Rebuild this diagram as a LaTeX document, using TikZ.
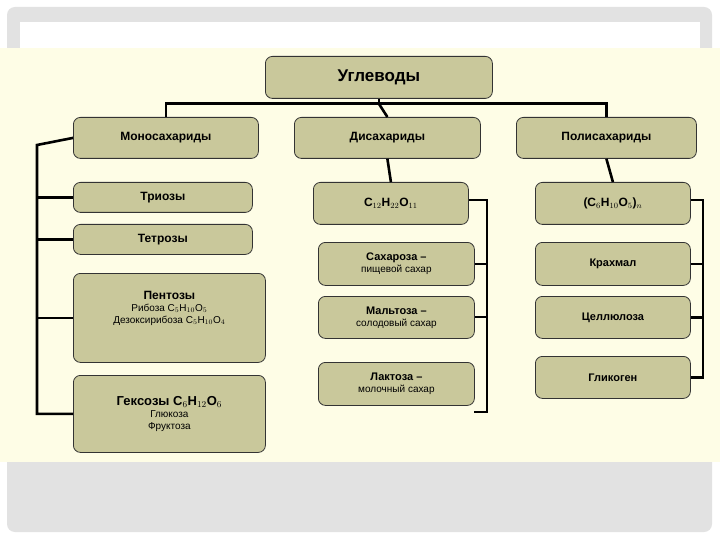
\documentclass[tikz,border=0pt]{standalone}
\usepackage{fontspec}
\setmainfont{Liberation Sans}
\begin{document}
\begin{tikzpicture}[x=1pt,y=-1pt,
  bx/.style={draw=black!80,line width=0.8pt,fill=boxfill,rounded corners=7pt,inner sep=0pt},
  ln/.style={line width=2.6pt,black}]
\definecolor{boxfill}{HTML}{C9C89B}
\definecolor{beige}{HTML}{FEFDE6}
\definecolor{frame}{HTML}{E2E2E2}
\useasboundingbox (0,0) rectangle (720,540);
\fill[white] (0,0) rectangle (720,540);
\fill[frame,rounded corners=8pt] (7,7) rectangle (712,532);
\fill[white] (20,22) rectangle (700,48);
\fill[beige] (0,48) rectangle (720,462);
% boxes
\newcommand{\bxx}[6]{\node[bx,minimum width=#4-#2,minimum height=#5-#3,anchor=north west,align=center] (#1) at (#2,#3) {#6};}
\bxx{top}{265}{56}{492}{98}{\fontsize{17}{20}\selectfont\bfseries Углеводы}
\bxx{mono}{73}{117}{258}{158}{\fontsize{12}{14}\selectfont\bfseries Моносахариды}
\bxx{di}{294}{117}{480}{158}{\fontsize{12}{14}\selectfont\bfseries Дисахариды}
\bxx{poly}{516}{117}{696}{158}{\fontsize{12}{14}\selectfont\bfseries Полисахариды}
\bxx{tri}{73}{182}{252}{212}{\fontsize{12}{14}\selectfont\bfseries Триозы}
\bxx{tet}{73}{224}{252}{254}{\fontsize{12}{14}\selectfont\bfseries Тетрозы}
\bxx{pent}{73}{273}{265}{362}{\fontsize{11}{16}\selectfont{\bfseries\fontsize{12}{16}\selectfont Пентозы}\\Рибоза C$_5$H$_{10}$O$_5$\\Дезоксирибоза C$_5$H$_{10}$O$_4$\\[10pt]}
\bxx{hex}{73}{375}{265}{452}{\fontsize{11}{16}\selectfont{\bfseries\fontsize{13}{16}\selectfont Гексозы C$_6$H$_{12}$O$_6$}\\Глюкоза\\Фруктоза}
\bxx{dif}{313}{182}{468}{224}{\fontsize{12}{14}\selectfont\bfseries C$_{12}$H$_{22}$O$_{11}$}
\bxx{sah}{318}{242}{474}{285}{\fontsize{11}{13}\selectfont{\bfseries Сахароза –}\\пищевой сахар}
\bxx{mal}{318}{296}{474}{338}{\fontsize{11}{13}\selectfont{\bfseries Мальтоза –}\\солодовый сахар}
\bxx{lak}{318}{362}{474}{405}{\fontsize{11}{13}\selectfont{\bfseries Лактоза –}\\молочный сахар}
\bxx{polf}{535}{182}{690}{224}{\fontsize{12}{14}\selectfont\bfseries (C$_6$H$_{10}$O$_5$)$_n$}
\bxx{kra}{535}{242}{690}{285}{\fontsize{11}{13}\selectfont\bfseries Крахмал}
\bxx{cel}{535}{296}{690}{338}{\fontsize{11}{13}\selectfont\bfseries Целлюлоза}
\bxx{gli}{535}{356}{690}{398}{\fontsize{11}{13}\selectfont\bfseries Гликоген}
% connectors
\draw[ln] (top.south) -- ++(0,5) coordinate (bus);
\draw[ln] (mono.north) |- (bus) -| (poly.north);
\draw[ln] (bus) -- (di.north);
\coordinate (ml) at (37,145);
\draw[ln] (mono.west) -- (ml) |- (hex.west);
\draw[ln] (ml |- tri.west) -- (tri.west);
\draw[ln] (ml |- tet.west) -- (tet.west);
\draw[ln] (ml |- pent.west) -- (pent.west);
\draw[ln] (di.south) -- (dif.north);
\coordinate (dr) at (487,200);
\draw[ln] (dif.east |- dr) -- (dr) |- (474,412) -- (lak.east |- 0,412);
\draw[ln] (dr |- sah.east) -- (sah.east);
\draw[ln] (dr |- 0,317) -- (mal.east |- 0,317);
\draw[ln] (poly.south) -- (polf.north);
\coordinate (pr) at (703,200);
\draw[ln] (polf.east |- pr) -- (pr) |- (gli.east);
\draw[ln] (pr |- kra.east) -- (kra.east);
\draw[ln] (pr |- cel.east) -- (cel.east);
\end{tikzpicture}
\end{document}
